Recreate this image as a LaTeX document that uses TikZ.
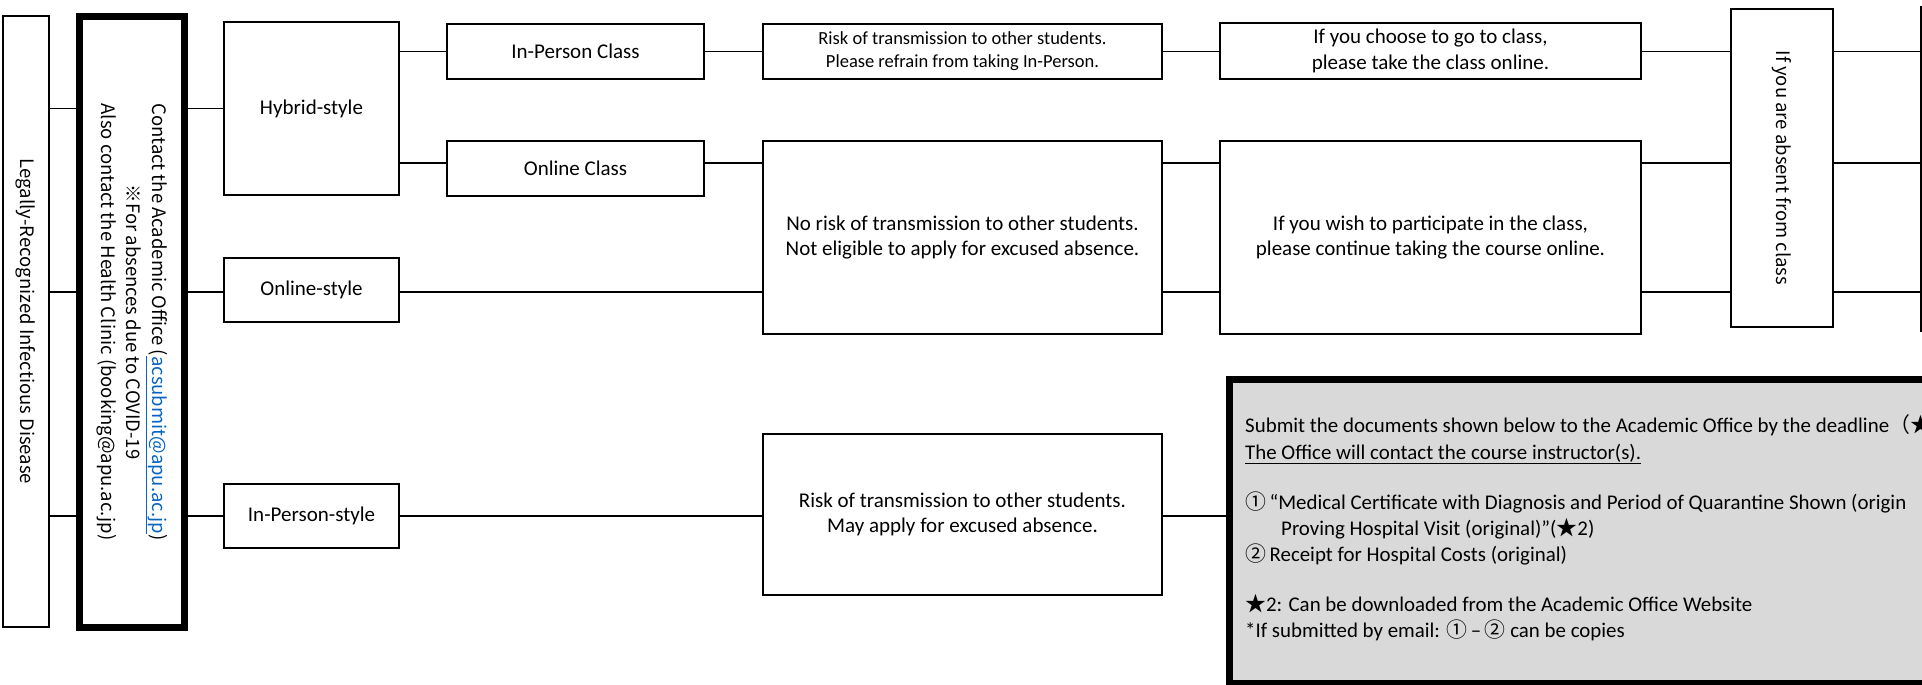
\documentclass[tikz,border=0pt]{standalone}
\usepackage{fontspec}
\setmainfont{Carlito}
\newfontfamily\jp{Noto Sans CJK JP}
\definecolor{linkblue}{HTML}{0563C1}
\definecolor{greyfill}{HTML}{D9D9D9}
\tikzset{
  box/.style={draw, line width=2.4pt, inner sep=0pt, align=center, font=\fontsize{21}{25.5}\selectfont},
  smallbox/.style={box, font=\fontsize{18.5}{23}\selectfont},
  conn/.style={line width=1.4pt},
  vtext/.style={font=\jp\fontsize{18.5}{25.5}\selectfont, rotate=-90, align=center, inner sep=0pt},
  gtext/.style={anchor=base west, inner sep=0pt, font=\fontsize{20.9}{25}\selectfont}
}
\begin{document}
\begin{tikzpicture}[x=1pt,y=-1pt]
\useasboundingbox (0,0) rectangle (1922,685);
\clip (0,0) rectangle (1922,685);
% row coordinates
\coordinate (ya) at (0,51.5);
\coordinate (yb) at (0,163);
\coordinate (yc) at (0,292);
\coordinate (rtop) at (1920.5,6);
\coordinate (rbot) at (1920.5,332);
% left column
\node[box, minimum width=46pt, minimum height=611pt] (L) at (26,321.5) {};
\node[vtext] (Ltx) at (L.center) {Legally-Recognized Infectious Disease};
\node[draw, line width=7pt, inner sep=0pt, minimum width=105pt, minimum height=611pt] (T) at (132,322) {};
\node[vtext] (Ttx) at (T.center) {Contact the Academic Office (\textcolor{linkblue}{\underline{acsubmit@apu.ac.jp}})\\
  ※For absences due to COVID-19\\
  Also contact the Health Clinic (booking@apu.ac.jp)};
% style boxes
\node[box, minimum width=175pt, minimum height=173pt] (hyb) at (311.5,108.5) {Hybrid-style};
\node[box, minimum width=175pt, minimum height=64pt] (ons) at (311.5,290) {Online-style};
\node[box, minimum width=175pt, minimum height=64pt] (ips) at (311.5,516) {In-Person-style};
% class boxes
\node[box, minimum width=257pt, minimum height=55pt] (ipc) at (575.5,51.5) {In-Person Class};
\node[box, minimum width=257pt, minimum height=55pt] (olc) at (575.5,168.5) {Online Class};
% risk boxes
\node[smallbox, minimum width=399pt, minimum height=55pt] (risk1) at (962.5,51.5) {Risk of transmission to other students.\\Please refrain from taking In-Person.};
\node[box, minimum width=399pt, minimum height=193pt] (norisk) at (962.5,237.5) {No risk of transmission to other students.\\Not eligible to apply for excused absence.};
\node[box, minimum width=399pt, minimum height=161pt] (riskmay) at (962.5,514.5) {Risk of transmission to other students.\\May apply for excused absence.};
% advice boxes
\node[box, minimum width=421pt, minimum height=56pt] (choose) at (1430.5,51) {If you choose to go to class,\\please take the class online.};
\node[box, minimum width=421pt, minimum height=193pt] (wish) at (1430.5,237.5) {If you wish to participate in the class,\\please continue taking the course online.};
% absent
\node[box, minimum width=102pt, minimum height=318pt] (absent) at (1782,168) {};
\node[vtext] (Atx) at (absent.center) {If you are absent from class};
% grey box
\node[draw, fill=greyfill, line width=7pt, inner sep=0pt, minimum width=720pt, minimum height=304pt, anchor=north west] (grey) at (1225.5,375.5) {};
\node[gtext] (g1) at (1245,432) {Submit the documents shown below to the Academic Office by the deadline{\jp（★}};
\node[gtext] (g2) at (1245,459) {\underline{The Office will contact the course instructor(s).}};
\node[gtext] (g3) at (1245,509) {{\jp①}\,“Medical Certificate with Diagnosis and Period of Quarantine Shown (origin};
\node[gtext] (g4) at (1281,535) {Proving Hospital Visit (original)”({\jp★}2)};
\node[gtext] (g5) at (1245,561) {{\jp②}\,Receipt for Hospital Costs (original)};
\node[gtext] (g6) at (1245,611) {{\jp★}2: Can be downloaded from the Academic Office Website};
\node[gtext] (g7) at (1245,637) {*If submitted by email: {\jp①}\,–\,{\jp②} can be copies};
% right edge line
\draw[line width=2pt] (rtop) -- (rbot);
% connectors
\draw[conn] (L.east |- hyb) -- (T.west |- hyb);
\draw[conn] (L.east |- yc) -- (T.west |- yc);
\draw[conn] (L.east |- ips) -- (T.west |- ips);
\draw[conn] (T.east |- hyb) -- (hyb.west);
\draw[conn] (T.east |- yc) -- (ons.west |- yc);
\draw[conn] (T.east |- ips) -- (ips.west);
\draw[conn] (hyb.east |- ya) -- (ipc.west |- ya);
\draw[conn] (hyb.east |- yb) -- (olc.west |- yb);
\draw[conn] (ipc.east |- ya) -- (risk1.west |- ya);
\draw[conn] (olc.east |- yb) -- (norisk.west |- yb);
\draw[conn] (ons.east |- yc) -- (norisk.west |- yc);
\draw[conn] (ips.east) -- (riskmay.west |- ips);
\draw[conn] (riskmay.east |- ips) -- (grey.west |- ips);
\draw[conn] (risk1.east |- ya) -- (choose.west |- ya);
\draw[conn] (norisk.east |- yb) -- (wish.west |- yb);
\draw[conn] (norisk.east |- yc) -- (wish.west |- yc);
\draw[conn] (choose.east |- ya) -- (absent.west |- ya);
\draw[conn] (wish.east |- yb) -- (absent.west |- yb);
\draw[conn] (wish.east |- yc) -- (absent.west |- yc);
\draw[conn] (absent.east |- ya) -- (rtop |- ya);
\draw[conn] (absent.east |- yb) -- (rtop |- yb);
\draw[conn] (absent.east |- yc) -- (rtop |- yc);
\end{tikzpicture}
\end{document}
